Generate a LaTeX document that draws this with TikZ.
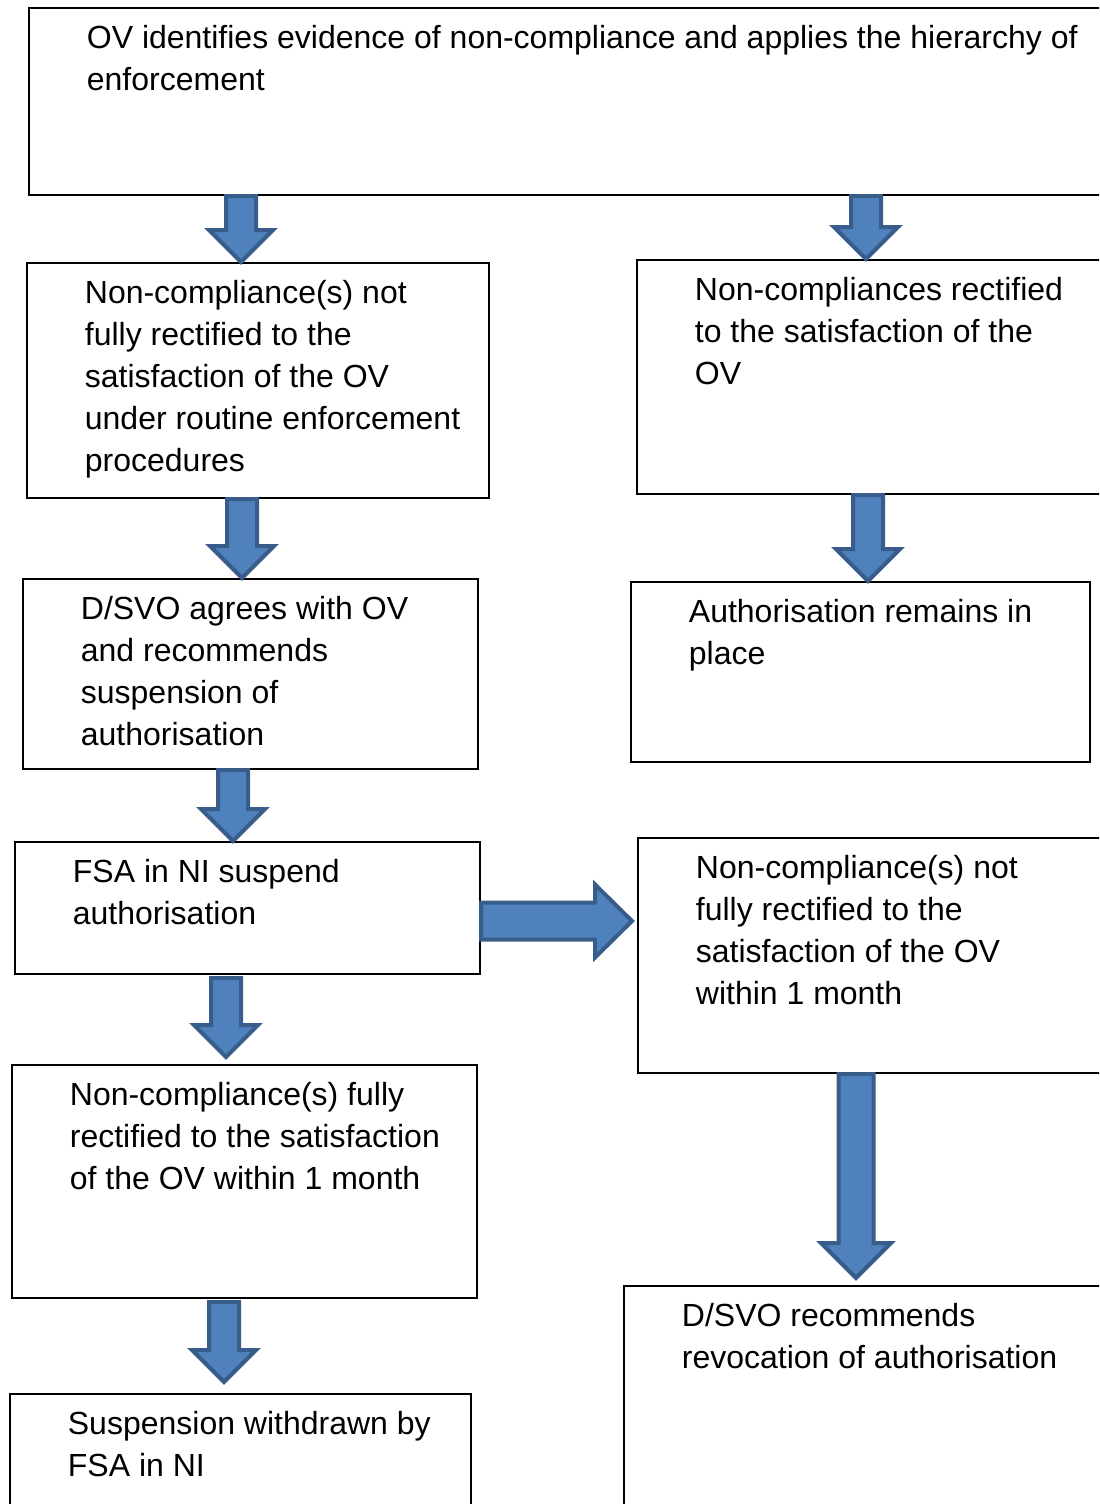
\documentclass[tikz,border=0pt]{standalone}
\usepackage{fontspec}
\setmainfont{Liberation Sans}
\usetikzlibrary{positioning,calc}

\definecolor{arrowfill}{RGB}{79,129,189}
\definecolor{arrowline}{RGB}{56,93,138}

% block arrows: start, tip, half shaft, half head, head length
\newcommand{\downblock}[5]{%
  \filldraw[blockarrow] let \p1=#1, \p2=#2 in
    (\x1-#3,\y1) -- (\x1+#3,\y1) -- (\x1+#3,\y2+#5) -- (\x1+#4,\y2+#5)
    -- (\x1,\y2) -- (\x1-#4,\y2+#5) -- (\x1-#3,\y2+#5) -- cycle;}
\newcommand{\rightblock}[5]{%
  \filldraw[blockarrow] let \p1=#1, \p2=#2 in
    (\x1,\y1+#3) -- (\x2-#5,\y1+#3) -- (\x2-#5,\y1+#4) -- (\x2,\y1)
    -- (\x2-#5,\y1-#4) -- (\x2-#5,\y1-#3) -- (\x1,\y1-#3) -- cycle;}

\begin{document}
\begin{tikzpicture}[x=0.5pt, y=-0.5pt,
		box/.style = {draw, line width=1pt, anchor=north west, inner sep=0pt},
		boxtext/.style = {align=left, inner sep=0pt, font=\fontsize{16pt}{21pt}\selectfont},
		blockarrow/.style = {fill=arrowfill, draw=arrowline, line width=2pt}
	]
	\useasboundingbox (0,0) rectangle (1099,1504);
	\clip (0,0) rectangle (1099,1504);
	\def\down{9pt}
	\def\right{29.25pt}

	% boxes
	\node[box, minimum width=541pt, minimum height=93.5pt] (top) at (28,7) {};
	\node[box, minimum width=231pt, minimum height=117.5pt] (notfixed) at (26,262) {};
	\node[box, minimum width=237pt, minimum height=117pt] (fixed) at (636,259) {};
	\node[box, minimum width=227.5pt, minimum height=95pt] (dsvo) at (22,578) {};
	\node[box, minimum width=229.5pt, minimum height=90pt] (remains) at (630,581) {};
	\node[box, minimum width=232.5pt, minimum height=66pt] (suspend) at (14,841) {};
	\node[box, minimum width=236.5pt, minimum height=117.5pt] (month) at (637,837) {};
	\node[box, minimum width=232.5pt, minimum height=116.5pt] (rectified) at (11,1064) {};
	\node[box, minimum width=230.5pt, minimum height=60pt] (withdrawn) at (9,1393) {};
	\node[box, minimum width=243.5pt, minimum height=115pt] (revoke) at (623,1285) {};

	% texts
	\node[boxtext, below right=\down and \right of top.north west]
		{OV identifies evidence of non-compliance and applies the hierarchy of\\enforcement};
	\node[boxtext, below right=\down and \right of notfixed.north west]
		{Non-compliance(s) not\\fully rectified to the\\satisfaction of the OV\\under routine enforcement\\procedures};
	\node[boxtext, below right=\down and \right of fixed.north west]
		{Non-compliances rectified\\to the satisfaction of the\\OV};
	\node[boxtext, below right=\down and \right of dsvo.north west]
		{D/SVO agrees with OV\\and recommends\\suspension of\\authorisation};
	\node[boxtext, below right=\down and \right of remains.north west]
		{Authorisation remains in\\place};
	\node[boxtext, below right=\down and \right of suspend.north west]
		{FSA in NI suspend\\authorisation};
	\node[boxtext, below right=\down and \right of month.north west]
		{Non-compliance(s) not\\fully rectified to the\\satisfaction of the OV\\within 1 month};
	\node[boxtext, below right=\down and \right of rectified.north west]
		{Non-compliance(s) fully\\rectified to the satisfaction\\of the OV within 1 month};
	\node[boxtext, below right=\down and \right of withdrawn.north west]
		{Suspension withdrawn by\\FSA in NI};
	\node[boxtext, below right=\down and \right of revoke.north west]
		{D/SVO recommends\\revocation of authorisation};

	% arrows
	\downblock{(241,0 |- top.south)}{(241,0 |- notfixed.north)}{7.5pt}{16pt}{16pt}
	\downblock{(866,0 |- top.south)}{(866,0 |- fixed.north)}{7.5pt}{16pt}{16pt}
	\downblock{(242,0 |- notfixed.south)}{(242,0 |- dsvo.north)}{7.5pt}{16pt}{16pt}
	\downblock{(868,0 |- fixed.south)}{(868,0 |- remains.north)}{7.5pt}{16pt}{16pt}
	\downblock{(233,0 |- dsvo.south)}{(233,0 |- suspend.north)}{7.5pt}{16pt}{16pt}
	\rightblock{(suspend.east |- 0,921)}{($(month.west |- 0,921)+(-5,0)$)}{9.25pt}{18.25pt}{18.5pt}
	\downblock{($(226,0 |- suspend.south)+(0,3)$)}{($(226,0 |- rectified.north)+(0,-7)$)}{7.5pt}{16pt}{16pt}
	\downblock{(856,0 |- month.south)}{($(856,0 |- revoke.north)+(0,-7)$)}{8.75pt}{17.5pt}{17.5pt}
	\downblock{($(224,0 |- rectified.south)+(0,3)$)}{($(224,0 |- withdrawn.north)+(0,-11)$)}{7.5pt}{16pt}{16pt}
\end{tikzpicture}
\end{document}
